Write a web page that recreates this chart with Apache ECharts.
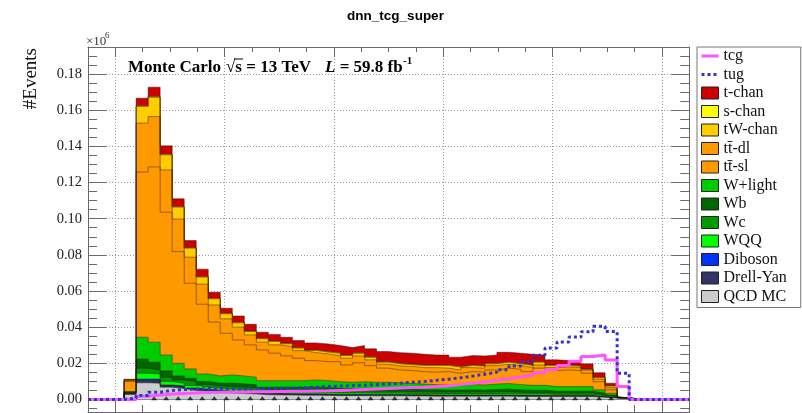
<!DOCTYPE html>
<html>
<head>
<meta charset="utf-8">
<script src="https://cdn.jsdelivr.net/npm/echarts@6/dist/echarts.min.js"></script>
<style>
  html, body { margin: 0; padding: 0; background: #fff; }
  #chart { width: 802px; height: 413px; }
</style>
</head>
<body>
<div id="chart"></div>
<script>
// DNN output histogram: 50 bins between -0.05 and 1.05
const nBins = 50;
const xLow = -0.05;
const xHigh = 1.05;
const binW = (xHigh - xLow) / nBins;
const binEdges = Array.from({ length: nBins + 1 }, (_, i) => xLow + i * binW);
const binCenters = binEdges.slice(0, nBins).map(e => e + binW / 2);

// Background yields per bin (units of 10^6 events), stacked bottom to top
const qcdMC = [0,0,0,.0028,.0092,.0090,.0068,.0060,.0050,.0045,.0040,.0035,.0033,.0030,.0026,.0025,.0024,.0023,.0023,.0022,
  .0021,.0021,.0021,.0020,.0020,.0020,.0019,.0019,.0018,.0018,.0018,.0018,.0018,.0018,.0018,.0017,.0017,.0017,.0016,.0016,
  .0016,.0016,.0012,.0008,.0004,0,0,0,0,0];
const drellYan = [0,0,0,.0006,.0015,.0016,.0010,.0012,.0010,.0009,.0008,.0008,.0007,.0007,.0006,.0006,.0006,.0006,.0006,.0006,
  .0005,.0005,.0005,.0005,.0005,.0005,.0005,.0005,.0005,.0005,.0005,.0005,.0005,.0005,.0005,.0005,.0004,.0004,.0004,.0004,
  .0004,.0004,.0003,.0002,.0001,0,0,0,0,0];
const diboson = [0,0,0,.0001,.0006,.0007,.0002,.0003,.0003,.0003,.0003,.0003,.0003,.0002,.0002,.0002,.0002,.0002,.0002,.0002,
  .0002,.0002,.0002,.0002,.0002,.0002,.0002,.0002,.0002,.0002,.0002,.0002,.0002,.0002,.0002,.0002,.0002,.0002,.0002,.0002,
  .0002,.0002,.0001,.0001,0,0,0,0,0,0];
const wqq = [0,0,0,.0002,.0032,.0028,.0019,.0015,.0014,.0012,.0011,.0012,.0011,.0011,.0009,.0009,.0009,.0009,.0009,.0009,
  .0008,.0008,.0008,.0008,.0008,.0008,.0007,.0007,.0007,.0007,.0007,.0007,.0007,.0007,.0008,.0007,.0007,.0007,.0006,.0006,
  .0006,.0006,.0005,.0003,.0001,0,0,0,0,0];
const wc = [0,0,0,.0002,.0028,.0022,.0024,.0018,.0022,.0014,.0012,.0014,.0014,.0013,.0011,.0011,.0011,.0012,.0012,.0012,
  .0011,.0010,.0011,.0011,.0011,.0010,.0010,.0009,.0009,.0009,.0009,.0009,.0009,.0010,.0010,.0009,.0009,.0009,.0008,.0008,
  .0008,.0008,.0006,.0004,.0001,0,0,0,0,0];
const wb = [0,0,0,.0002,.0051,.0043,.0035,.0022,.0018,.0016,.0016,.0018,.0018,.0018,.0014,.0015,.0015,.0015,.0016,.0015,
  .0015,.0014,.0015,.0014,.0014,.0013,.0013,.0012,.0012,.0011,.0011,.0012,.0011,.0013,.0014,.0013,.0012,.0012,.0010,.0010,
  .0010,.0010,.0008,.0005,.0001,0,0,0,0,0];
const wLight = [0,0,0,.0003,.0120,.0111,.0088,.0070,.0052,.0042,.0040,.0046,.0044,.0042,.0036,.0036,.0037,.0037,.0040,.0038,
  .0036,.0035,.0036,.0035,.0035,.0034,.0032,.0031,.0029,.0028,.0026,.0029,.0028,.0030,.0031,.0029,.0027,.0027,.0025,.0025,
  .0025,.0025,.0018,.0011,.0001,0,0,0,0,0];
const ttSl = [0,0,0,.0055,.0914,.0970,.0790,.0618,.0474,.0386,.0298,.0230,.0199,.0179,.0170,.0152,.0137,.0124,.0107,.0105,
  .0111,.0096,.0105,.0092,.0078,.0071,.0072,.0069,.0069,.0074,.0067,.0072,.0071,.0078,.0085,.0085,.0076,.0095,.0089,.0092,
  .0089,.0074,.0045,.0019,.0001,0,0,0,0,0];
const ttDl = [0,0,0,.0006,.0271,.0278,.0234,.0180,.0144,.0111,.0095,.0080,.0071,.0055,.0043,.0046,.0051,.0042,.0044,.0043,
  .0032,.0037,.0038,.0032,.0022,.0022,.0022,.0022,.0025,.0019,.0018,.0022,.0022,.0024,.0022,.0020,.0022,.0018,.0016,.0017,
  .0016,.0018,.0014,.0012,0,0,0,0,0,0];
const tWchan = [0,0,0,.0003,.0092,.0106,.0083,.0066,.0050,.0039,.0034,.0028,.0024,.0019,.0019,.0019,.0016,.0014,.0012,.0010,
  .0014,.0015,.0014,.0014,.0011,.0012,.0010,.0012,.0012,.0015,.0016,.0012,.0011,.0010,.0011,.0010,.0012,.0015,.0012,.0008,
  .0008,.0004,.0009,.0010,0,0,0,0,0,0];
const sChan = [0,0,0,.0001,.0004,.0005,.0004,.0003,.0003,.0003,.0003,.0003,.0003,.0003,.0003,.0003,.0003,.0003,.0003,.0003,
  .0003,.0003,.0003,.0003,.0003,.0003,.0003,.0003,.0003,.0003,.0003,.0003,.0003,.0003,.0003,.0003,.0003,.0003,.0003,.0003,
  .0003,.0002,.0002,.0001,0,0,0,0,0,0];
const tChan = [0,0,0,.0003,.0042,.0052,.0046,.0043,.0039,.0041,.0033,.0028,.0035,.0037,.0033,.0036,.0033,.0039,.0039,.0042,
  .0040,.0041,.0040,.0044,.0056,.0059,.0061,.0059,.0055,.0055,.0052,.0052,.0054,.0046,.0052,.0056,.0059,.0037,.0028,.0024,
  .0028,.0028,.0025,.0014,0,0,0,0,0,0];

// Signal shapes (not stacked)
const tcg = [0,0,0,0,.0018,.0025,.0030,.0033,.0036,.0038,.0040,.0040,.0041,.0042,.0043,.0044,.0045,.0046,.0047,.0048,
  .0050,.0052,.0055,.0058,.0060,.0063,.0066,.0068,.0071,.0076,.0082,.0090,.0098,.0106,.0115,.0125,.0135,.0148,.0165,.0188,
  .0212,.0238,.0246,.0218,.0071,0,0,0,0,0];
const tug = [0,0,0,.0008,.0022,.0040,.0050,.0055,.0058,.0060,.0060,.0058,.0058,.0060,.0060,.0062,.0063,.0065,.0068,.0072,
  .0074,.0076,.0079,.0082,.0086,.0090,.0095,.0100,.0106,.0112,.0120,.0129,.0140,.0150,.0165,.0185,.0208,.0245,.0285,.0318,
  .0345,.0375,.0405,.0376,.0145,0,0,0,0,0];

// Small black markers sitting on the baseline
const baseMarkers = [null,null,null,null,null,.0007,.0007,.0007,.0007,.0007,.0007,.0007,.0007,.0007,.0007,.0007,.0007,.0007,.0007,.0007,
  .0007,.0007,.0007,.0007,.0007,.0007,.0007,.0007,.0007,.0007,.0007,.0007,.0007,.0007,.0007,.0007,.0007,.0007,.0007,.0007,
  .0007,.0007,.0007,.0007,null,null,null,null,null,null];

// Stack order (bottom first) with names as shown in the legend
const stackOrder = [
  { name: 'QCD MC',    values: qcdMC },
  { name: 'Drell-Yan', values: drellYan },
  { name: 'Diboson',   values: diboson },
  { name: 'WQQ',       values: wqq },
  { name: 'Wc',        values: wc },
  { name: 'Wb',        values: wb },
  { name: 'W+light',   values: wLight },
  { name: 'tt\u0304-sl', values: ttSl },
  { name: 'tt\u0304-dl', values: ttDl },
  { name: 'tW-chan',   values: tWchan },
  { name: 's-chan',    values: sChan },
  { name: 't-chan',    values: tChan }
];
const fillColor = {
  'QCD MC': '#cccccc', 'Drell-Yan': '#333366', 'Diboson': '#0033ff', 'WQQ': '#00ff00',
  'Wc': '#009900', 'Wb': '#006600', 'W+light': '#00cc00', 'tt\u0304-sl': '#ff9900',
  'tt\u0304-dl': '#ff9900', 'tW-chan': '#ffcc00', 's-chan': '#ffff00', 't-chan': '#cc0000'
};
const legendOrder = ['tcg', 'tug', 't-chan', 's-chan', 'tW-chan', 'tt\u0304-dl', 'tt\u0304-sl',
  'W+light', 'Wb', 'Wc', 'WQQ', 'Diboson', 'Drell-Yan', 'QCD MC'];

// Histogram as step polyline: one point per left bin edge plus the closing right edge
function stepPoints(values) {
  return binEdges.map((x, i) => [x, values[Math.min(i, nBins - 1)]]);
}

// Running totals of the stack: each layer is filled from its top down to zero,
// drawn from the highest layer to the lowest so lower layers paint over.
const running = new Array(nBins).fill(0);
const cumulative = stackOrder.map(s => {
  for (let i = 0; i < nBins; i++) running[i] += s.values[i];
  return { name: s.name, tops: running.slice() };
});

const SERIF = '"Liberation Serif", "DejaVu Serif", serif';
const FRAME = '#6a6a6a';
const GRID_RECT = { left: 88, right: 112.7, top: 47, bottom: -22.6 };
const FRAME_BOTTOM_RECT = { left: 88, right: 112.7, top: 47, bottom: 1 };

const series = cumulative.slice().reverse().map(c => ({
  name: c.name,
  type: 'line',
  xAxisIndex: 0,
  yAxisIndex: 0,
  step: 'end',
  symbol: 'none',
  showSymbol: false,
  color: fillColor[c.name],
  lineStyle: { color: 'rgba(40,20,0,0.45)', width: 1 },
  areaStyle: { color: fillColor[c.name], opacity: 1, origin: 0 },
  emphasis: { disabled: true },
  data: stepPoints(c.tops),
  z: 2
}));

series.push({
  name: 'markers', type: 'scatter', xAxisIndex: 0, yAxisIndex: 0,
  symbol: 'triangle', symbolSize: [6, 4],
  itemStyle: { color: '#111' },
  emphasis: { disabled: true },
  data: binCenters.map((x, i) => [x, baseMarkers[i]]).filter(p => p[1] !== null),
  z: 3
});
series.push({
  name: 'tcg', type: 'line', xAxisIndex: 0, yAxisIndex: 0, step: 'end',
  symbol: 'none', showSymbol: false, color: '#ff55ff',
  lineStyle: { color: '#ff55ff', width: 3 },
  emphasis: { disabled: true },
  data: stepPoints(tcg), z: 4
});
series.push({
  name: 'tug', type: 'line', xAxisIndex: 0, yAxisIndex: 0, step: 'end',
  symbol: 'none', showSymbol: false, color: '#3333cc',
  lineStyle: { color: '#3333cc', width: 3, type: [3, 3], cap: 'butt' },
  emphasis: { disabled: true },
  data: stepPoints(tug), z: 5
});

// Frame axes: each grid shares the plot rectangle so every side gets its own tick set
const hiddenLine = { show: false, onZero: false };
const frameLine = { show: true, onZero: false, lineStyle: { color: FRAME, width: 1 } };
const tick = (len) => ({ show: true, inside: true, length: len, lineStyle: { color: FRAME } });
function xFrame(gridIndex, position, opts) {
  return Object.assign({
    type: 'value', gridIndex, position, min: xLow, max: xHigh,
    axisLabel: { show: false }, splitLine: { show: false }, axisLine: hiddenLine
  }, opts);
}
function yFrame(gridIndex, position, opts) {
  return Object.assign({
    type: 'value', gridIndex, position, min: -0.02, max: 0.195,
    axisLabel: { show: false }, splitLine: { show: false }, axisLine: hiddenLine
  }, opts);
}

const legendData = legendOrder.map(n => {
  if (n === 'tcg') {
    return { name: n, icon: 'path://M0,0M17,12M0,4.5L17,4.5L17,7.5L0,7.5Z', itemStyle: { color: '#ff55ff', borderWidth: 0 } };
  }
  if (n === 'tug') {
    return { name: n, icon: 'path://M0,0M17,12M0,4.5h3v3h-3ZM6,4.5h3v3h-3ZM12,4.5h3v3h-3Z', itemStyle: { color: '#3333cc', borderWidth: 0 } };
  }
  return { name: n, icon: 'rect', itemStyle: { color: fillColor[n], borderColor: '#222', borderWidth: 1 } };
});

const gridOpts = { outerBoundsMode: 'none', containLabel: false };

const option = {
  animation: false,
  backgroundColor: '#fff',
  grid: [
    Object.assign({}, gridOpts, GRID_RECT),        // 0 data + left labels
    Object.assign({}, gridOpts, GRID_RECT),        // 1 top/right majors
    Object.assign({}, gridOpts, GRID_RECT),        // 2 top/left minors
    Object.assign({}, gridOpts, GRID_RECT),        // 3 right minors
    Object.assign({}, gridOpts, FRAME_BOTTOM_RECT), // 4 bottom majors
    Object.assign({}, gridOpts, FRAME_BOTTOM_RECT)  // 5 bottom minors
  ],
  xAxis: [
    xFrame(0, 'bottom', { splitNumber: 5, axisTick: { show: false },
      splitLine: { show: true, lineStyle: { type: [1, 2], color: '#9a9a9a', width: 1 } } }),
    xFrame(1, 'top', { splitNumber: 5, axisLine: frameLine, axisTick: tick(10) }),
    xFrame(2, 'top', { interval: 0.05, axisTick: tick(5) }),
    xFrame(3, 'bottom', { show: false }),
    xFrame(4, 'bottom', { splitNumber: 5, axisLine: frameLine, axisTick: tick(14) }),
    xFrame(5, 'bottom', { interval: 0.05, axisTick: tick(7) })
  ],
  yAxis: [
    yFrame(0, 'left', {
      interval: 0.02, axisLine: frameLine, axisTick: tick(18),
      axisLabel: {
        show: true, margin: 6, color: '#222', fontFamily: SERIF, fontSize: 14.5,
        formatter: v => {
          const r = v / 0.02;
          return (v > -1e-9 && Math.abs(r - Math.round(r)) < 1e-6) ? Math.abs(v).toFixed(2) : '';
        }
      },
      splitLine: { show: true, lineStyle: { type: [1, 2], color: '#9a9a9a', width: 1 } }
    }),
    yFrame(1, 'right', { interval: 0.02, axisLine: frameLine, axisTick: tick(18) }),
    yFrame(2, 'left', { interval: 0.005, axisTick: tick(9) }),
    yFrame(3, 'right', { interval: 0.005, axisTick: tick(9) }),
    { type: 'value', gridIndex: 4, min: 0, max: 1, show: false },
    { type: 'value', gridIndex: 5, min: 0, max: 1, show: false }
  ],
  legend: {
    show: true,
    orient: 'vertical',
    left: 697,
    top: 47,
    itemWidth: 17,
    itemHeight: 12,
    itemGap: 2.5,
    padding: [1, 14, 3, 4],
    borderColor: '#777',
    borderWidth: 1,
    backgroundColor: '#fff',
    selectedMode: false,
    textStyle: { fontFamily: SERIF, fontSize: 16, color: '#111' },
    data: legendData
  },
  graphic: [
    { type: 'text', x: 395.5, y: 16,
      style: { text: 'dnn_tcg_super', font: 'bold 13.5px "Liberation Sans", Arial, sans-serif',
               fill: '#000', align: 'center', textAlign: 'center', verticalAlign: 'middle', textVerticalAlign: 'middle' } },
    { type: 'text', x: 31, y: 48, rotation: Math.PI / 2,
      style: { text: '#Events', font: '19px ' + SERIF, fill: '#111',
               align: 'right', textAlign: 'right', verticalAlign: 'middle', textVerticalAlign: 'middle' } },
    { type: 'text', x: 86, y: 42,
      style: { text: '\u00d710', font: '13px ' + SERIF, fill: '#333',
               align: 'left', textAlign: 'left', verticalAlign: 'middle', textVerticalAlign: 'middle' } },
    { type: 'text', x: 105, y: 36,
      style: { text: '6', font: '9px ' + SERIF, fill: '#333',
               align: 'left', textAlign: 'left', verticalAlign: 'middle', textVerticalAlign: 'middle' } },
    { type: 'text', x: 128, y: 68, z: 10,
      style: { text: 'Monte Carlo', font: 'bold 17px ' + SERIF, fill: '#000',
               align: 'left', textAlign: 'left', verticalAlign: 'middle', textVerticalAlign: 'middle' } },
    { type: 'text', x: 226, y: 68, z: 10,
      style: { text: '\u221as = 13 TeV', font: 'bold 17px ' + SERIF, fill: '#000',
               align: 'left', textAlign: 'left', verticalAlign: 'middle', textVerticalAlign: 'middle' } },
    // bar over the radicand of the square root
    { type: 'line', z: 10, shape: { x1: 234, y1: 59, x2: 243, y2: 59 },
      style: { stroke: '#000', lineWidth: 1 } },
    { type: 'text', x: 325, y: 68, z: 10,
      style: { text: '{i|L} = 59.8 fb', font: 'bold 17px ' + SERIF, fill: '#000',
               align: 'left', textAlign: 'left', verticalAlign: 'middle', textVerticalAlign: 'middle',
               rich: { i: { fontStyle: 'italic', fontWeight: 'bold', fontSize: 17, fontFamily: SERIF, fill: '#000', color: '#000' } } } },
    { type: 'text', x: 403, y: 61, z: 10,
      style: { text: '-1', font: 'bold 11px ' + SERIF, fill: '#000',
               align: 'left', textAlign: 'left', verticalAlign: 'middle', textVerticalAlign: 'middle' } }
  ],
  series: series
};

const chart = echarts.init(document.getElementById('chart'), null, { renderer: 'canvas' });
chart.setOption(option);
</script>
</body>
</html>
